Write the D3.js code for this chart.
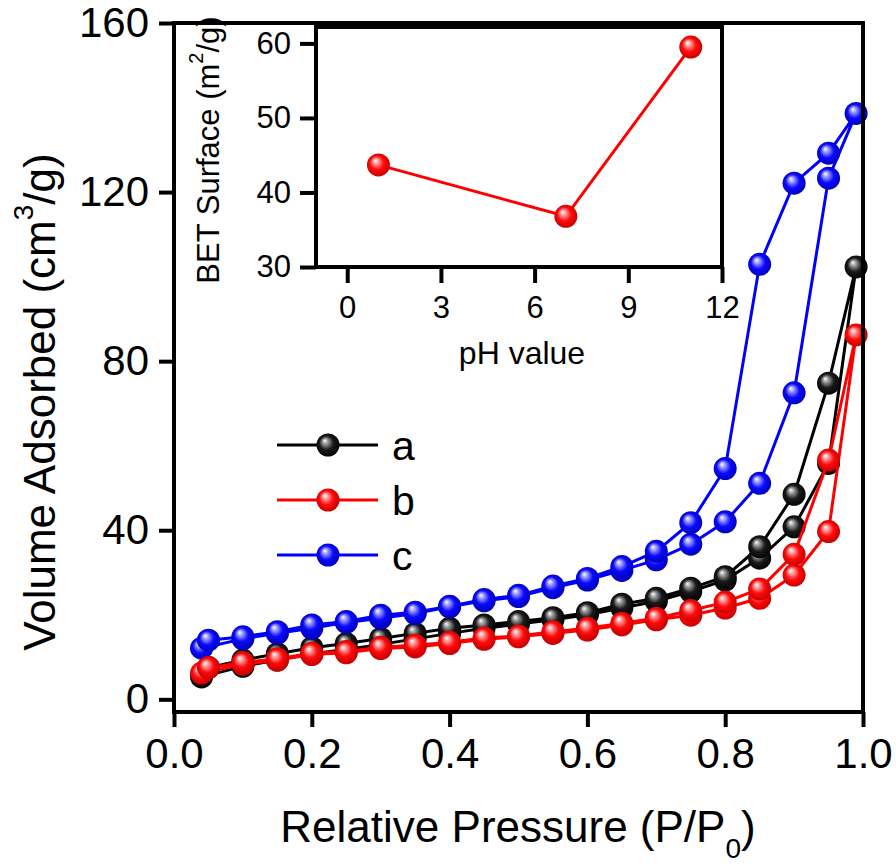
<!DOCTYPE html>
<html>
<head>
<meta charset="utf-8">
<script src="https://cdn.jsdelivr.net/npm/d3@7"></script>
<style>
  body { margin: 0; background: #fff; }
  text { font-family: "Liberation Sans", Arial, Helvetica, sans-serif; fill: #000; }
</style>
</head>
<body>
<script>
    //Declare consts/global variables
        const width = 896;
        const height = 865;

    //Data - relative pressure (P/P0) for the two branches
        const pressureAds = [0.04, 0.10, 0.15, 0.20, 0.25, 0.30, 0.35, 0.40, 0.45, 0.50,
                             0.55, 0.60, 0.65, 0.70, 0.75, 0.80, 0.85, 0.90, 0.95, 0.99];
        const pressureDes = [0.99, 0.95, 0.90, 0.85, 0.80, 0.75, 0.70, 0.65, 0.60, 0.55,
                             0.50, 0.45, 0.40, 0.35, 0.30, 0.25, 0.20, 0.15, 0.10, 0.05];

    //Volume adsorbed (cm3/g)
        const aAds = [5.3, 7.8, 9.3, 10.8, 11.8, 13.0, 14.3, 15.6, 16.8, 17.8,
                      18.8, 20.0, 21.6, 23.2, 25.5, 28.2, 33.4, 40.8, 55.8, 102.3];
        const aDes = [102.3, 74.8, 48.5, 36.1, 29.0, 26.3, 23.9, 22.5, 20.5, 19.3,
                      18.4, 17.6, 16.8, 15.6, 14.4, 13.2, 12.2, 10.8, 9.3, 7.5];
        const bAds = [6.2, 8.3, 9.3, 10.6, 11.0, 12.0, 12.4, 13.2, 14.2, 14.8,
                      15.6, 16.4, 17.6, 18.8, 19.9, 21.6, 23.9, 29.4, 39.7, 86.2];
        const bDes = [86.2, 56.6, 34.3, 26.1, 23.0, 21.0, 19.2, 18.0, 16.8, 16.0,
                      15.0, 14.5, 13.5, 12.8, 12.3, 11.3, 10.9, 9.6, 8.7, 7.5];
        const cAds = [12.1, 14.3, 15.6, 16.8, 18.2, 19.2, 20.3, 21.9, 23.3, 24.3,
                      26.4, 28.2, 30.5, 33.0, 36.7, 42.0, 51.1, 72.5, 123.3, 138.6];
        const cDes = [138.6, 129.2, 122.1, 102.9, 54.6, 41.8, 35.0, 31.4, 28.6, 26.8,
                      24.6, 23.6, 22.0, 20.6, 19.9, 18.4, 17.6, 16.0, 14.8, 14.0];

        const seriesNames = ["a", "b", "c"];

    //Inset data
        const phValues = [1, 7, 11];
        const betSurface = [43.7, 36.8, 59.5];

    //Tick values
        const xTicks = [0, 0.2, 0.4, 0.6, 0.8, 1.0];
        const yTicks = [0, 40, 80, 120, 160];
        const insetXTicks = [0, 3, 6, 9, 12];
        const insetYTicks = [30, 40, 50, 60];

    //Styles
        const colors = { a: "#000000", b: "#ff0000", c: "#0000ff" };
        const sphere = {
            a: ["#ffffff", "#9a9a9a", "#1a1a1a", "#000000"],
            b: ["#ffffff", "#ff9a9a", "#ff0a0a", "#c00000"],
            c: ["#ffffff", "#9a9aff", "#0a0aff", "#0000b0"]
        };
        const r = 11.5;

    //build series from the arrays
        const series = [
            { key: "a", ads: aAds, des: aDes },
            { key: "c", ads: cAds, des: cDes },
            { key: "b", ads: bAds, des: bDes }
        ].map(s => ({
            key: s.key,
            points: pressureAds.map((p, i) => ({ p: p, v: s.ads[i] }))
                .concat(pressureDes.slice(1).map((p, i) => ({ p: p, v: s.des[i + 1] })))
        }));

    //Scales
        const xScale = d3.scaleLinear().domain([0, 1]).range([174, 863]);
        const yScale = d3.scaleLinear().domain([-3, 160]).range([712, 23]);

        const xInset = d3.scaleLinear().domain([-1, 12]).range([316, 722]);
        const yInset = d3.scaleLinear().domain([30, 62.2]).range([267, 27]);

    //SVG
        const svg = d3.select("body")
                    .append("svg")
                    .attr("width", width)
                    .attr("height", height);

        const defs = svg.append("defs");
        Object.keys(sphere).forEach(k => {
            const g = defs.append("radialGradient")
                .attr("id", "ball-" + k)
                .attr("cx", "50%").attr("cy", "50%").attr("r", "55%")
                .attr("fx", "35%").attr("fy", "30%");
            [0, 0.22, 0.55, 1].forEach((o, i) => {
                g.append("stop").attr("offset", o).attr("stop-color", sphere[k][i]);
            });
        });

    //Main series: line then balls
        const line = d3.line().x(d => xScale(d.p)).y(d => yScale(d.v));

        series.forEach(s => {
            const g = svg.append("g");
            g.append("path")
                .datum(s.points)
                .attr("d", line)
                .attr("fill", "none")
                .attr("stroke", colors[s.key])
                .attr("stroke-width", 3);
            g.selectAll("circle")
                .data(s.points)
                .enter()
                .append("circle")
                .attr("cx", d => xScale(d.p))
                .attr("cy", d => yScale(d.v))
                .attr("r", r)
                .attr("fill", "url(#ball-" + s.key + ")");
        });

    //Main axes
        const bottomAxis = d3.axisBottom(xScale)
                             .tickValues(xTicks)
                             .tickFormat(d3.format(".1f"))
                             .tickSize(15).tickSizeOuter(0).tickPadding(11);
        const leftAxis = d3.axisLeft(yScale)
                           .tickValues(yTicks)
                           .tickSize(15).tickSizeOuter(0).tickPadding(10);

        const gx = svg.append("g")
            .attr("transform", "translate(0," + 712 + ")")
            .call(bottomAxis);
        const gy = svg.append("g")
            .attr("transform", "translate(" + 174 + ",0)")
            .call(leftAxis);

        [gx, gy].forEach(g => {
            g.select(".domain").remove();
            g.selectAll(".tick line").attr("stroke", "#000").attr("stroke-width", 4);
            g.selectAll(".tick text").attr("font-size", 42).attr("fill", "#000");
        });

    //Main frame
        svg.append("rect")
            .attr("x", xScale(0)).attr("y", yScale(160))
            .attr("width", xScale(1) - xScale(0))
            .attr("height", yScale(-3) - yScale(160))
            .attr("fill", "none").attr("stroke", "#000").attr("stroke-width", 4);

    //Axis titles
        const xTitle = svg.append("text")
            .attr("x", 518).attr("y", 842)
            .attr("text-anchor", "middle")
            .attr("font-size", 44);
        xTitle.append("tspan").text("Relative Pressure (P/P");
        xTitle.append("tspan").attr("dy", 16).attr("font-size", 28).text("0");
        xTitle.append("tspan").attr("dy", -16).text(")");

        const yTitle = svg.append("text")
            .attr("transform", "translate(55,402) rotate(-90)")
            .attr("text-anchor", "middle")
            .attr("font-size", 44);
        yTitle.append("tspan").text("Volume Adsorbed (cm");
        yTitle.append("tspan").attr("dy", -22).attr("font-size", 28).text("3");
        yTitle.append("tspan").attr("dy", 22).text("/g)");

    //Legend
        const legendKeys = seriesNames;
        const legend = svg.append("g");
        legendKeys.forEach((k, i) => {
            const ly = 445 + i * 55;
            legend.append("line")
                .attr("x1", 277).attr("x2", 378)
                .attr("y1", ly).attr("y2", ly)
                .attr("stroke", colors[k]).attr("stroke-width", 3);
            legend.append("circle")
                .attr("cx", 328).attr("cy", ly).attr("r", r)
                .attr("fill", "url(#ball-" + k + ")");
            legend.append("text")
                .attr("x", 392).attr("y", ly + 15)
                .attr("font-size", 41)
                .text(k);
        });

    //Inset
        const inset = svg.append("g");
        inset.append("rect")
            .attr("x", xInset(-1)).attr("y", yInset(62.2))
            .attr("width", xInset(12) - xInset(-1))
            .attr("height", yInset(30) - yInset(62.2))
            .attr("fill", "#fff").attr("stroke", "#000").attr("stroke-width", 4);

        const insetData = phValues.map((p, i) => ({ p: p, v: betSurface[i] }));
        inset.append("path")
            .datum(insetData)
            .attr("d", d3.line().x(d => xInset(d.p)).y(d => yInset(d.v)))
            .attr("fill", "none").attr("stroke", colors.b).attr("stroke-width", 3);
        inset.selectAll("circle")
            .data(insetData)
            .enter()
            .append("circle")
            .attr("cx", d => xInset(d.p))
            .attr("cy", d => yInset(d.v))
            .attr("r", r)
            .attr("fill", "url(#ball-b)");

        const gix = inset.append("g")
            .attr("transform", "translate(0," + yInset(30) + ")")
            .call(d3.axisBottom(xInset).tickValues(insetXTicks)
                    .tickSize(16).tickSizeOuter(0).tickPadding(13));
        const giy = inset.append("g")
            .attr("transform", "translate(" + xInset(-1) + ",0)")
            .call(d3.axisLeft(yInset).tickValues(insetYTicks)
                    .tickSize(16).tickSizeOuter(0).tickPadding(9));
        [gix, giy].forEach(g => {
            g.select(".domain").remove();
            g.selectAll(".tick line").attr("stroke", "#000").attr("stroke-width", 4);
            g.selectAll(".tick text").attr("font-size", 31).attr("fill", "#000");
        });

        inset.append("text")
            .attr("x", 522).attr("y", 364)
            .attr("text-anchor", "middle")
            .attr("font-size", 32)
            .text("pH value");

        const iyTitle = inset.append("text")
            .attr("transform", "translate(219,150) rotate(-90)")
            .attr("text-anchor", "middle")
            .attr("font-size", 31);
        iyTitle.append("tspan").text("BET Surface (m");
        iyTitle.append("tspan").attr("dy", -16).attr("font-size", 20).text("2");
        iyTitle.append("tspan").attr("dy", 16).text("/g)");
</script>
</body>
</html>
